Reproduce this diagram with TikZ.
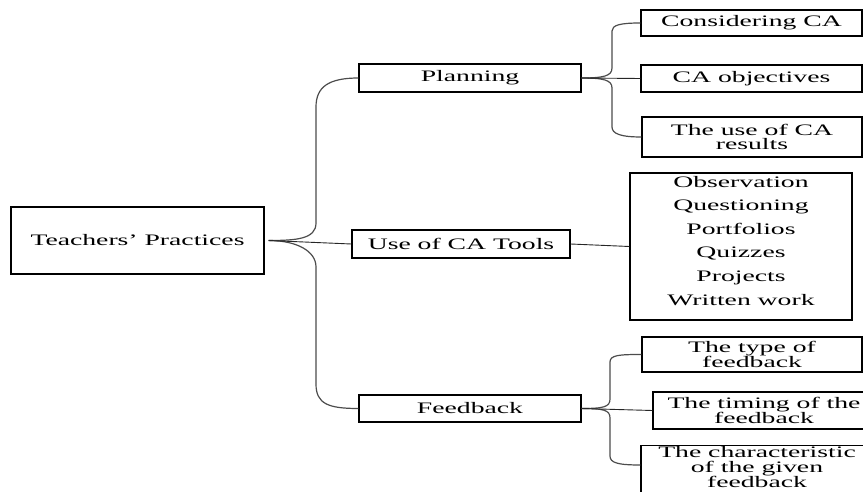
\documentclass[tikz,border=0pt]{standalone}
\usepackage{fontspec}
\setmainfont{Liberation Serif}[FakeStretch=1.73]
\begin{document}
\begin{tikzpicture}[x=1pt,y=-1pt,
  box/.style={draw=black,line width=1.1pt,fill=white,inner sep=0pt,align=center,
    font=\fontsize{16}{14.5}\selectfont},
  conn/.style={draw=black!70,line width=1.2pt},
  link/.style={draw=black!85,line width=0.9pt}]
\useasboundingbox (0,0) rectangle (863,492);
% nodes
\node[box,minimum width=253pt,minimum height=67pt] (root) at (137.5,240.5) {Teachers’ Practices};
\node[box,minimum width=222pt,minimum height=28pt] (plan) at (470,78) {Planning};
\node[box,minimum width=218pt,minimum height=28pt] (tools) at (461,244) {Use of CA Tools};
\node[box,minimum width=222pt,minimum height=27pt] (feed) at (470,408.5) {Feedback};
\node[box,minimum width=221pt,minimum height=26pt] (c1) at (751.5,23) {Considering CA};
\node[box,minimum width=221pt,minimum height=27pt] (c2) at (751.5,78.5) {CA objectives};
\node[box,minimum width=220pt,minimum height=40pt] (c3) at (752,137) {The use of CA\\results};
\node[box,minimum width=222pt,minimum height=147pt,text depth=12pt,
  font=\fontsize{16}{23.6}\selectfont] (list) at (741,246.5)
  {Observation\\Questioning\\Portfolios\\Quizzes\\Projects\\Written work};
\node[box,minimum width=220pt,minimum height=35pt] (f1) at (752,354.5) {The type of\\feedback};
\node[box,minimum width=222pt,minimum height=37pt] (f2) at (764,410.5) {The timing of the\\feedback};
\node[box,minimum width=232pt,inner ysep=1pt,text depth=14pt,anchor=north,
  font=\fontsize{16}{14.5}\selectfont] (f3) at (757,445)
  {The characteristic\\of the given\\feedback};
% root brace
\draw[conn] ([xshift=4pt]root.east) .. controls +(28,0) and +(0,16) .. (316,223)
  -- (316,107) .. controls +(0,-20) and +(-30,0) .. (plan.west);
\draw[conn] ([xshift=4pt]root.east) .. controls +(28,0) and +(0,-16) .. (316,267)
  -- (316,384) .. controls +(0,20) and +(-30,0) .. (feed.west);
\draw[link] ([xshift=4pt]root.east) -- (tools.west);
% planning brace
\draw[conn] (plan.east) .. controls +(22,0) and +(0,8) .. (612,68)
  -- (612,31) .. controls +(0,-6) and +(-20,0) .. (c1.west);
\draw[conn] (plan.east) .. controls +(22,0) and +(0,-8) .. (612,88)
  -- (612,127) .. controls +(0,7) and +(-20,0) .. (c3.west);
\draw[link] (plan.east) -- (c2.west);
% tools link
\draw[link] (tools.east) -- (list.west);
% feedback brace
\draw[conn] (feed.east) .. controls +(22,0) and +(0,8) .. (610,399)
  -- (610,362) .. controls +(0,-7) and +(-22,0) .. (f1.west);
\draw[conn] (feed.east) .. controls +(22,0) and +(0,-8) .. (610,418)
  -- (610,456) .. controls +(0,7) and +(-22,0) .. ([yshift=-20pt]f3.north west);
\draw[link] (feed.east) -- (f2.west);
\end{tikzpicture}
\end{document}
